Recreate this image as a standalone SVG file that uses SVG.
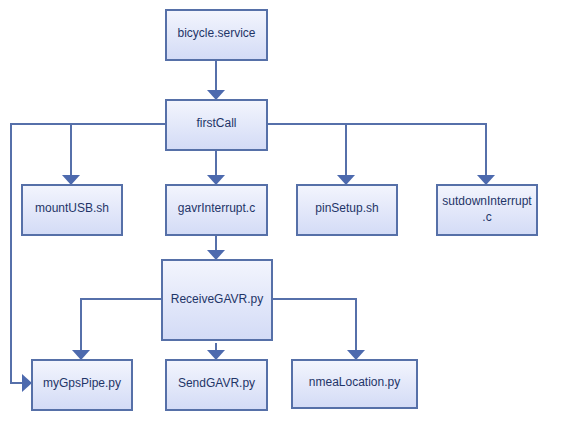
<svg xmlns="http://www.w3.org/2000/svg" width="576" height="439" viewBox="0 0 576 439">
<defs>
<linearGradient id="g" x1="0" y1="0" x2="0" y2="1">
<stop offset="0" stop-color="#f3f5fd"/>
<stop offset="1" stop-color="#d3dbf6"/>
</linearGradient>
<marker id="a" viewBox="0 0 10 18" refX="10" refY="9" markerWidth="10" markerHeight="18" markerUnits="userSpaceOnUse" orient="auto">
<path d="M0,0 L10,9 L0,18 Z" fill="#4d6aae"/>
</marker>
<style>
.box{fill:url(#g);stroke:#5670a8;stroke-width:2}
.t{font-family:"Liberation Sans",Arial,sans-serif;font-size:12px;fill:#1f3568;text-anchor:middle}
.c{fill:none;stroke:#5670aa;stroke-width:2}
</style>
</defs>
<rect width="576" height="439" fill="#ffffff"/>
<g id="connectors">
<path class="c" d="M216,60 V100" marker-end="url(#a)"/>
<path class="c" d="M166,124 H11 V383 H32" marker-end="url(#a)"/>
<path class="c" d="M71,124 V185" marker-end="url(#a)"/>
<path class="c" d="M216,150 V185" marker-end="url(#a)"/>
<path class="c" d="M267,124 H486 V185" marker-end="url(#a)"/>
<path class="c" d="M346,124 V185" marker-end="url(#a)"/>
<path class="c" d="M216,235 V260" marker-end="url(#a)"/>
<path class="c" d="M162,299 H81 V360" marker-end="url(#a)"/>
<path class="c" d="M216,343 V360" marker-end="url(#a)"/>
<path class="c" d="M272,299 H356 V360" marker-end="url(#a)"/>
</g>
<g id="bicycle"><rect class="box" x="166" y="10" width="101" height="50"/><text class="t" x="216.5" y="37">bicycle.service</text></g>
<g id="firstCall"><rect class="box" x="166" y="100" width="101" height="50"/><text class="t" x="216.5" y="127">firstCall</text></g>
<g id="mountUSB"><rect class="box" x="22" y="185" width="100" height="50"/><text class="t" x="72" y="212">mountUSB.sh</text></g>
<g id="gavrInterrupt"><rect class="box" x="166" y="185" width="101" height="50"/><text class="t" x="216.5" y="212">gavrInterrupt.c</text></g>
<g id="pinSetup"><rect class="box" x="297" y="185" width="100" height="50"/><text class="t" x="347" y="212">pinSetup.sh</text></g>
<g id="sutdownInterrupt"><rect class="box" x="437" y="185" width="100" height="50"/><text class="t" x="487" y="205">sutdownInterrupt</text><text class="t" x="487" y="221">.c</text></g>
<g id="ReceiveGAVR"><rect class="box" x="162" y="260" width="110" height="80"/><text class="t" x="217" y="303">ReceiveGAVR.py</text></g>
<g id="myGpsPipe"><rect class="box" x="32" y="360" width="100" height="50"/><text class="t" x="82" y="387">myGpsPipe.py</text></g>
<g id="SendGAVR"><rect class="box" x="166" y="360" width="101" height="50"/><text class="t" x="216.5" y="387">SendGAVR.py</text></g>
<g id="nmeaLocation"><rect class="box" x="292" y="360" width="125" height="48"/><text class="t" x="354.5" y="386">nmeaLocation.py</text></g>
</svg>
